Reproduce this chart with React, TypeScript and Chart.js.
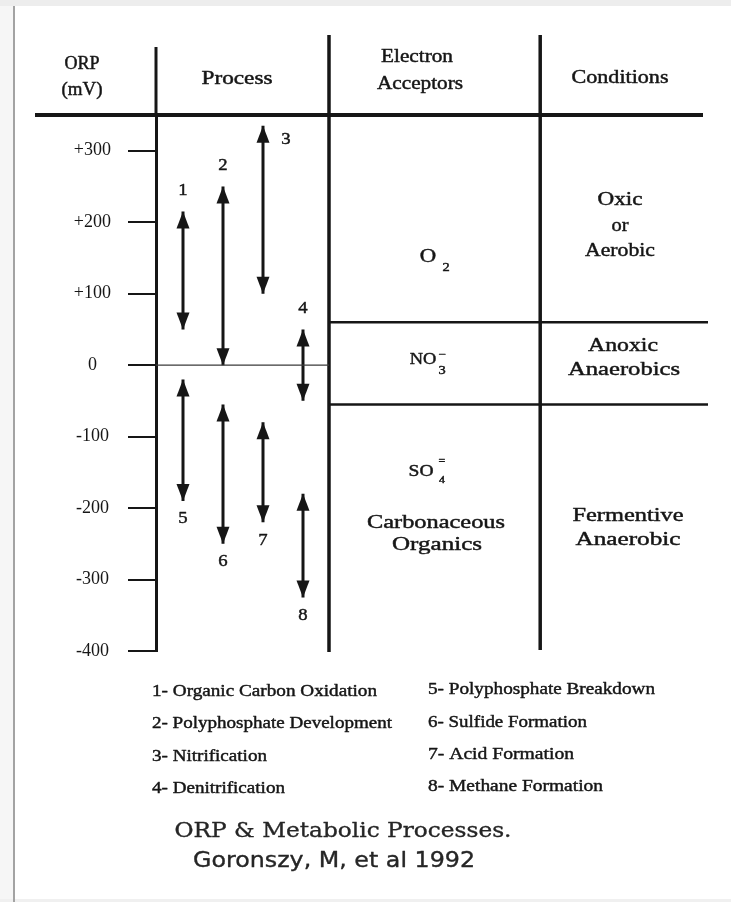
import React, { useEffect, useRef } from 'react';
import { Chart, registerables } from 'chart.js';

Chart.register(...registerables);

// ---------- data ----------
const ORP_TICKS = [-400, -300, -200, -100, 0, 100, 200, 300];
const ORP_TICK_LABELS = ['-400', '-300', '-200', '-100', '0', '+100', '+200', '+300'];
const ORP_MIN = -400;
const ORP_MAX = 350;

const PROCESS_IDS = ['1', '2', '3', '4', '5', '6', '7', '8'];
const PROCESS_NAMES = [
  'Organic Carbon Oxidation',
  'Polyphosphate Development',
  'Nitrification',
  'Denitrification',
  'Polyphosphate Breakdown',
  'Sulfide Formation',
  'Acid Formation',
  'Methane Formation',
];
const ARROW_LANE = [1, 2, 3, 4, 1, 2, 3, 4];
const ARROW_TOP = [215, 250, 335, 50, -20, -55, -80, -180];
const ARROW_BOTTOM = [50, 0, 100, -50, -190, -250, -220, -325];
const LABEL_SIDE = ['top', 'top', 'right', 'top', 'bottom', 'bottom', 'bottom', 'bottom'];

const COLUMN_HEADERS = ['ORP', '(mV)', 'Process', 'Electron', 'Acceptors', 'Conditions'];
const REGION_BOUNDS = [60, -55]; // mV boundaries between oxic / anoxic / anaerobic
const COLUMN_EDGES = [4.65, 9.93]; // x-scale positions of the column dividers
const CONDITION_LABELS = ['Oxic', 'or', 'Aerobic', 'Anoxic', 'Anaerobics', 'Fermentive', 'Anaerobic'];
const ACCEPTOR_LABELS = ['Carbonaceous', 'Organics'];
const CAPTION = ['ORP & Metabolic Processes.', 'Goronszy, M, et al 1992'];

// ---------- style ----------
const INK = '#161616';
const SERIF = '"Liberation Serif", "Times New Roman", serif';

function txt(
  ctx: CanvasRenderingContext2D,
  s: string,
  x: number,
  y: number,
  font: string,
  opt: { w?: number; sx?: number; align?: CanvasTextAlign; color?: string; bold?: number } = {}
) {
  ctx.save();
  ctx.font = font;
  ctx.fillStyle = opt.color || INK;
  ctx.strokeStyle = opt.color || INK;
  ctx.textBaseline = 'middle';
  ctx.textAlign = opt.align || 'center';
  const m = ctx.measureText(s).width;
  const sx = opt.w ? opt.w / m : opt.sx ?? 1;
  ctx.translate(x, y);
  ctx.scale(sx, 1);
  ctx.fillText(s, 0, 0);
  const b = opt.bold ?? 0.45;
  if (b > 0) {
    ctx.lineWidth = b;
    ctx.lineJoin = 'round';
    ctx.strokeText(s, 0, 0);
  }
  ctx.restore();
}

function line(ctx: CanvasRenderingContext2D, x1: number, y1: number, x2: number, y2: number, w: number, c = INK) {
  ctx.save();
  ctx.strokeStyle = c;
  ctx.lineWidth = w;
  ctx.lineCap = 'butt';
  ctx.beginPath();
  ctx.moveTo(x1, y1);
  ctx.lineTo(x2, y2);
  ctx.stroke();
  ctx.restore();
}

const diagramPlugin = {
  id: 'orpDiagram',
  beforeDraw(chart: any) {
    const ctx: CanvasRenderingContext2D = chart.ctx;
    const W = chart.width;
    const H = chart.height;
    ctx.save();
    ctx.fillStyle = '#ffffff';
    ctx.fillRect(0, 0, W, H);
    ctx.fillStyle = '#ededed';
    ctx.fillRect(0, 0, W, 6);
    ctx.fillStyle = '#f6f6f6';
    ctx.fillRect(0, 6, 13, H - 6);
    ctx.fillStyle = '#f0f0f0';
    ctx.fillRect(0, H - 3, W, 3);
    ctx.fillStyle = '#a3a3a3';
    ctx.fillRect(13, 6, 2, H - 6);
    ctx.restore();
  },
  afterDatasetsDraw(chart: any) {
    const ctx: CanvasRenderingContext2D = chart.ctx;
    chart.data.datasets.forEach((_ds: any, i: number) => {
      const meta = chart.getDatasetMeta(i);
      const p0 = meta.data[0];
      const p1 = meta.data[1];
      const top = p0.y < p1.y ? p0 : p1;
      const bot = p0.y < p1.y ? p1 : p0;
      const L = 17;
      const hw = 6.5;
      ctx.save();
      ctx.fillStyle = INK;
      ctx.beginPath();
      ctx.moveTo(top.x, top.y);
      ctx.lineTo(top.x - hw, top.y + L);
      ctx.lineTo(top.x + hw, top.y + L);
      ctx.closePath();
      ctx.fill();
      ctx.beginPath();
      ctx.moveTo(bot.x, bot.y);
      ctx.lineTo(bot.x - hw, bot.y - L);
      ctx.lineTo(bot.x + hw, bot.y - L);
      ctx.closePath();
      ctx.fill();
      ctx.restore();

      const side = LABEL_SIDE[i];
      let lx = top.x;
      let ly = top.y - 21;
      if (side === 'right') {
        lx = top.x + 23;
        ly = top.y + 14;
      } else if (side === 'bottom') {
        lx = bot.x;
        ly = bot.y + 18;
      }
      txt(ctx, PROCESS_IDS[i], lx, ly, `17px ${SERIF}`, { sx: 1.1 });
    });
  },
  afterDraw(chart: any) {
    const ctx: CanvasRenderingContext2D = chart.ctx;
    const xs = chart.scales.x;
    const ys = chart.scales.y;
    const area = chart.chartArea;
    const xDiv1 = xs.getPixelForValue(COLUMN_EDGES[0]);
    const xDiv2 = xs.getPixelForValue(COLUMN_EDGES[1]);
    const yTop = ys.getPixelForValue(ORP_MAX);

    // table frame
    line(ctx, 35, yTop, 703, yTop, 4);
    line(ctx, area.left, 47, area.left, yTop, 3);
    line(ctx, xDiv1, 35, xDiv1, area.bottom + 1, 3.5);
    line(ctx, xDiv2, 35, xDiv2, area.bottom - 1, 3.5);
    REGION_BOUNDS.forEach((v) => {
      const y = ys.getPixelForValue(v);
      line(ctx, xDiv1, y, 708, y, 2.5);
    });
    const y0 = ys.getPixelForValue(0);
    line(ctx, area.left, y0, xDiv1, y0, 1.3, '#3a3a3a');

    // headers
    const hf = `18px ${SERIF}`;
    txt(ctx, COLUMN_HEADERS[0], 82, 64, hf, { w: 35 });
    txt(ctx, COLUMN_HEADERS[1], 82, 90, hf, { w: 41 });
    txt(ctx, COLUMN_HEADERS[2], 237, 79, hf, { w: 71 });
    txt(ctx, COLUMN_HEADERS[3], 417, 57, hf, { w: 72 });
    txt(ctx, COLUMN_HEADERS[4], 420, 84, hf, { w: 86 });
    txt(ctx, COLUMN_HEADERS[5], 620, 78, hf, { w: 97 });

    // electron acceptors
    const cf = `19px ${SERIF}`;
    const sf = `12px ${SERIF}`;
    txt(ctx, 'O', 428, 257, cf, { sx: 1.2 });
    txt(ctx, '2', 446, 268, sf, { sx: 1.2 });
    txt(ctx, 'NO', 423, 360, `16px ${SERIF}`, { sx: 1.15 });
    txt(ctx, '3', 442, 371, sf, { sx: 1.2 });
    txt(ctx, '\u2212', 442, 355, `11px ${SERIF}`, { sx: 1.2 });
    txt(ctx, 'SO', 421, 472, `17px ${SERIF}`, { sx: 1.15 });
    txt(ctx, '4', 442, 480, `10px ${SERIF}`, { sx: 1.2 });
    txt(ctx, '=', 442, 461, `10px ${SERIF}`, { sx: 1.2 });
    txt(ctx, ACCEPTOR_LABELS[0], 436, 523, cf, { w: 138 });
    txt(ctx, ACCEPTOR_LABELS[1], 437, 545, cf, { w: 90 });

    // conditions
    txt(ctx, CONDITION_LABELS[0], 620, 200, cf, { w: 45 });
    txt(ctx, CONDITION_LABELS[1], 620, 226, cf, { w: 17 });
    txt(ctx, CONDITION_LABELS[2], 620, 251, cf, { w: 70 });
    txt(ctx, CONDITION_LABELS[3], 623, 346, cf, { w: 70 });
    txt(ctx, CONDITION_LABELS[4], 624, 370, cf, { w: 112 });
    txt(ctx, CONDITION_LABELS[5], 628, 516, cf, { w: 111 });
    txt(ctx, CONDITION_LABELS[6], 628, 540, cf, { w: 105 });

    // process legend
    const lf = `17px ${SERIF}`;
    const legX = [152, 428];
    const legY = [
      [692, 724, 757, 789],
      [690, 723, 755, 787],
    ];
    const legW = [
      [225, 240, 115, 133],
      [227, 159, 146, 175],
    ];
    PROCESS_IDS.forEach((id, i) => {
      const col = i < 4 ? 0 : 1;
      const row = i % 4;
      txt(ctx, `${id}- ${PROCESS_NAMES[i]}`, legX[col], legY[col][row], lf, {
        w: legW[col][row],
        align: 'left',
      });
    });

    // caption
    txt(ctx, CAPTION[0], 343, 832, `21px "DejaVu Serif", Georgia, serif`, { w: 337, color: '#262626', bold: 0.35 });
    txt(ctx, CAPTION[1], 334, 862, `21px "DejaVu Sans", Tahoma, sans-serif`, { w: 282, color: '#262626', bold: 0.35 });
  },
};

export default function App() {
  const ref = useRef<HTMLCanvasElement>(null);

  useEffect(() => {
    const canvas = ref.current;
    if (!canvas) return;
    const chart = new Chart(canvas, {
      type: 'scatter',
      data: {
        datasets: PROCESS_IDS.map((id, i) => ({
          label: `${id}- ${PROCESS_NAMES[i]}`,
          data: [
            { x: ARROW_LANE[i], y: ARROW_TOP[i] },
            { x: ARROW_LANE[i], y: ARROW_BOTTOM[i] },
          ],
          showLine: true,
          borderColor: INK,
          backgroundColor: INK,
          borderWidth: 3,
          pointRadius: 0,
          pointHoverRadius: 0,
          fill: false,
        })),
      },
      options: {
        responsive: false,
        animation: false,
        devicePixelRatio: 1,
        events: [],
        layout: { padding: { top: 115, bottom: 251, left: 0, right: 26 } },
        plugins: {
          legend: { display: false },
          tooltip: { enabled: false },
          title: { display: false },
        },
        scales: {
          x: { type: 'linear', min: 0.325, max: 14.05, display: false },
          y: {
            type: 'linear',
            min: ORP_MIN,
            max: ORP_MAX,
            afterBuildTicks: (scale: any) => {
              scale.ticks = ORP_TICKS.map((v) => ({ value: v }));
            },
            afterFit: (scale: any) => {
              scale.width = 156;
            },
            border: { display: true, width: 3, color: INK },
            grid: {
              drawOnChartArea: false,
              drawTicks: true,
              tickLength: 28,
              lineWidth: 2,
              color: INK,
            },
            ticks: {
              crossAlign: 'center',
              padding: 17,
              color: INK,
              font: { family: SERIF, size: 18 },
              autoSkip: false,
              callback: (_v: any, i: number) => ORP_TICK_LABELS[i],
            },
          },
        },
      },
      plugins: [diagramPlugin],
    } as any);
    return () => chart.destroy();
  }, []);

  return (
    <div style={{ position: 'absolute', left: 0, top: 0, width: 731, height: 902, background: '#fff' }}>
      <canvas ref={ref} width={731} height={902} style={{ display: 'block', width: 731, height: 902 }} />
    </div>
  );
}
